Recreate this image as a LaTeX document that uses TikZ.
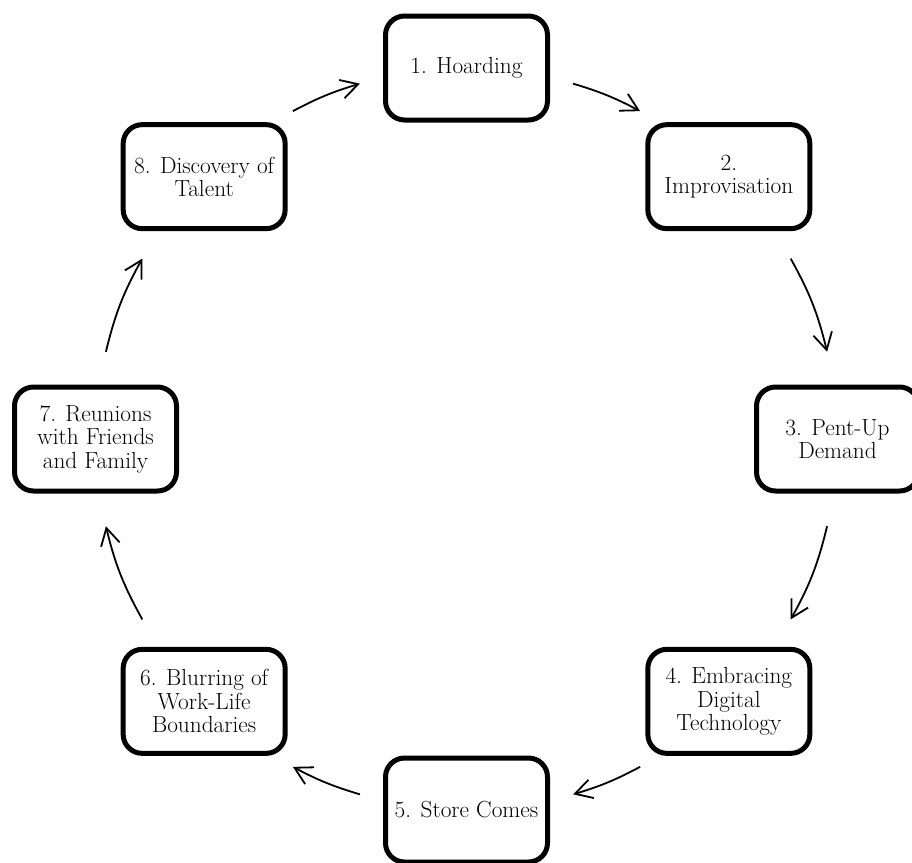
\documentclass[tikz,border=0pt]{standalone}
\usetikzlibrary{arrows.meta,calc}
\newcommand\cycrad{371pt}
\begin{document}
\begin{tikzpicture}[
  box/.style={draw, line width=5pt, rounded corners=19pt, minimum width=162pt,
    minimum height=104pt, align=center, inner sep=0pt, fill=white,
    font=\fontsize{23.3pt}{23.5pt}\selectfont},
  arr/.style={line width=1.8pt, -{Straight Barb[length=17pt,width=19pt]}}
]
\useasboundingbox (0,0) rectangle (912pt,-862pt);
\fill[white] (0,0) rectangle (912pt,-862pt);
\clip (0,0) rectangle (912pt,-862pt);
\coordinate (O) at (466.5pt,-439pt);
\node[box] (n1) at ($(O)+(90:\cycrad)$) {1. Hoarding};
\node[box] (n2) at ($(O)+(45:\cycrad)$) {2.\\Improvisation};
\node[box] (n3) at ($(O)+(0:\cycrad)$) {3. Pent-Up\\Demand};
\node[box] (n4) at ($(O)+(-45:\cycrad)$) {4. Embracing\\Digital\\Technology};
\node[box] (n5) at ($(O)+(-90:\cycrad)$) {5. Store Comes};
\node[box] (n6) at ($(O)+(-135:\cycrad)$) {6. Blurring of\\Work-Life\\Boundaries};
\node[box] (n7) at ($(O)+(180:\cycrad)$) {7. Reunions\\with Friends\\and Family};
\node[box] (n8) at ($(O)+(135:\cycrad)$) {8. Discovery of\\Talent};

\draw[arr] ($(n1)+(73.3:\cycrad)-(90:\cycrad)$) to[bend left=5.6] ($(n2)+(62.1:\cycrad)-(45:\cycrad)$);
\draw[arr] ($(n2)+(29.1:\cycrad)-(45:\cycrad)$) to[bend left=7.75] ($(n3)+(13.6:\cycrad)-(0:\cycrad)$);
\draw[arr] ($(n3)+(-13.6:\cycrad)-(0:\cycrad)$) to[bend left=7.75] ($(n4)+(-29.1:\cycrad)-(-45:\cycrad)$);
\draw[arr] ($(n4)+(-62.1:\cycrad)-(-45:\cycrad)$) to[bend left=5.6] ($(n5)+(-73.3:\cycrad)-(-90:\cycrad)$);
\draw[arr] ($(n5)+(-106.7:\cycrad)-(-90:\cycrad)$) to[bend left=5.6] ($(n6)+(-117.9:\cycrad)-(-135:\cycrad)$);
\draw[arr] ($(n6)+(-150.9:\cycrad)-(-135:\cycrad)$) to[bend left=7.75] ($(n7)+(-166.4:\cycrad)-(180:\cycrad)$);
\draw[arr] ($(n7)+(166.4:\cycrad)-(180:\cycrad)$) to[bend left=7.75] ($(n8)+(150.9:\cycrad)-(135:\cycrad)$);
\draw[arr] ($(n8)+(117.9:\cycrad)-(135:\cycrad)$) to[bend left=5.6] ($(n1)+(106.7:\cycrad)-(90:\cycrad)$);
\end{tikzpicture}
\end{document}
